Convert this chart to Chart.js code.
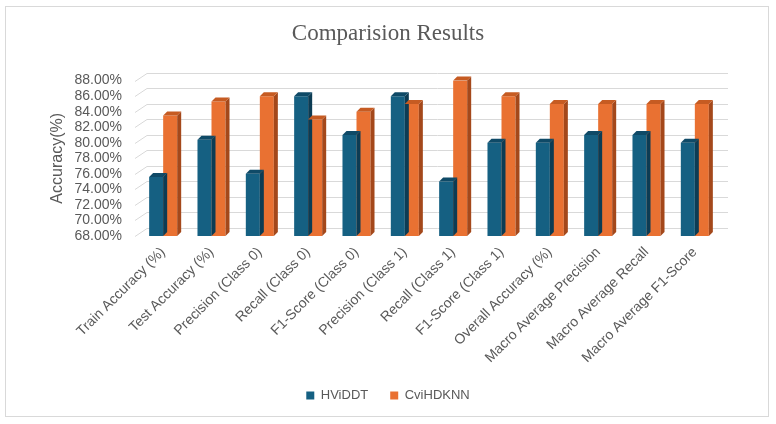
<!DOCTYPE html>
<html>
<head>
<meta charset="utf-8">
<script src="https://cdn.jsdelivr.net/npm/chart.js@4.4.1/dist/chart.umd.min.js"></script>
<style>
  html, body { margin: 0; padding: 0; background: #ffffff; }
  #wrap { position: relative; width: 776px; height: 424px; }
  #frame { position: absolute; left: 5px; top: 6px; width: 764px; height: 411px; border: 1px solid #d9d9d9; box-sizing: border-box; }
  #box { position: absolute; left: 0; top: 0; width: 776px; height: 424px; }
</style>
</head>
<body>
<div id="wrap">
  <div id="frame"></div>
  <div id="box"><canvas id="c"></canvas></div>
</div>
<script>
const categories = [
  "Train Accuracy (%)", "Test Accuracy (%)", "Precision (Class 0)", "Recall (Class 0)",
  "F1-Score (Class 0)", "Precision (Class 1)", "Recall (Class 1)", "F1-Score (Class 1)",
  "Overall Accuracy (%)", "Macro Average Precision", "Macro Average Recall", "Macro Average F1-Score"
];
const hviddt   = [75.6, 80.4, 76.0, 86.0, 81.0, 86.0, 75.0, 80.0, 80.0, 81.0, 81.0, 80.0];
const cvihdknn = [83.5, 85.3, 86.0, 83.0, 84.0, 85.0, 88.0, 86.0, 85.0, 85.0, 85.0, 85.0];
const seriesNames = ["HViDDT", "CviHDKNN"];
const yMin = 68, yMax = 88, yStep = 2;

const FRONT = ["#156082", "#E97132"];
const TOP   = ["#0F4A67", "#C65B22"];
const SIDE  = ["#0C3C54", "#A4481B"];
const DEPTH = 4;

const gridPlugin = {
  id: "grid3d",
  beforeDatasetsDraw(chart) {
    const ys = chart.scales.y, area = chart.chartArea, ctx = chart.ctx;
    ctx.save();
    ctx.strokeStyle = "#d9d9d9";
    ctx.lineWidth = 1;
    for (let v = yMin; v <= yMax + 1e-9; v += yStep) {
      const y = Math.round(ys.getPixelForValue(v)) + 0.5;
      ctx.beginPath();
      ctx.moveTo(area.left - 4, y);
      ctx.lineTo(area.left + 8, y - 8);
      ctx.lineTo(area.right + 9, y - 8);
      ctx.stroke();
    }
    ctx.restore();
  }
};

const barPlugin = {
  id: "bar3d",
  afterDatasetsDraw(chart) {
    const ctx = chart.ctx, area = chart.chartArea;
    ctx.save();
    chart.data.datasets.forEach((ds, di) => {
      const meta = chart.getDatasetMeta(di);
      meta.data.forEach(bar => {
        const p = bar.getProps(["x", "y", "base", "width"], true);
        const l = p.x - p.width / 2, r = p.x + p.width / 2;
        const t = Math.max(p.y, area.top), b = Math.min(p.base, area.bottom);
        ctx.fillStyle = SIDE[di];
        ctx.beginPath();
        ctx.moveTo(r, t); ctx.lineTo(r + DEPTH, t - DEPTH);
        ctx.lineTo(r + DEPTH, b - DEPTH); ctx.lineTo(r, b);
        ctx.closePath(); ctx.fill();
        ctx.fillStyle = TOP[di];
        ctx.beginPath();
        ctx.moveTo(l, t); ctx.lineTo(r, t);
        ctx.lineTo(r + DEPTH, t - DEPTH); ctx.lineTo(l + DEPTH, t - DEPTH);
        ctx.closePath(); ctx.fill();
      });
    });
    ctx.restore();
  }
};

new Chart(document.getElementById("c"), {
  type: "bar",
  data: {
    labels: categories,
    datasets: [
      { label: seriesNames[0], data: hviddt, backgroundColor: FRONT[0], borderWidth: 0 },
      { label: seriesNames[1], data: cvihdknn, backgroundColor: FRONT[1], borderWidth: 0 }
    ]
  },
  options: {
    responsive: true,
    maintainAspectRatio: false,
    animation: false,
    devicePixelRatio: 1,
    layout: { padding: { left: 0, right: 0, top: 20, bottom: 12 } },
    datasets: { bar: { barPercentage: 1.0, categoryPercentage: 0.58 } },
    plugins: {
      title: {
        display: true,
        text: "Comparision Results",
        color: "#595959",
        font: { family: "Liberation Serif", size: 23, weight: "normal" },
        padding: { top: 0, bottom: 33 }
      },
      legend: {
        display: true,
        position: "bottom",
        labels: {
          color: "#595959",
          font: { family: "Liberation Sans", size: 13 },
          boxWidth: 8, boxHeight: 8, padding: 22
        }
      },
      tooltip: { enabled: false }
    },
    scales: {
      x: {
        grid: { display: false, drawTicks: false },
        border: { display: false },
        ticks: {
          color: "#595959",
          font: { family: "Liberation Sans", size: 14 },
          minRotation: 45, maxRotation: 45, padding: 8, autoSkip: false
        },
        afterFit(scale) { scale.height = 131; }
      },
      y: {
        min: yMin, max: yMax,
        grid: { display: false, drawTicks: false },
        border: { display: false },
        ticks: {
          stepSize: yStep,
          autoSkip: false,
          color: "#595959",
          font: { family: "Liberation Sans", size: 14 },
          padding: 17,
          callback: v => v.toFixed(2) + "%"
        },
        title: {
          display: true,
          text: "Accuracy(%)",
          color: "#595959",
          font: { family: "Liberation Sans", size: 16 },
          padding: { top: 48, bottom: 0 }
        },
        afterFit(scale) { scale.width = 139; }
      },
      yRight: {
        position: "right",
        display: true,
        min: yMin, max: yMax,
        grid: { display: false, drawTicks: false },
        border: { display: false },
        ticks: { display: false },
        afterFit(scale) { scale.width = 57; }
      }
    }
  },
  plugins: [gridPlugin, barPlugin]
});
</script>
</body>
</html>
